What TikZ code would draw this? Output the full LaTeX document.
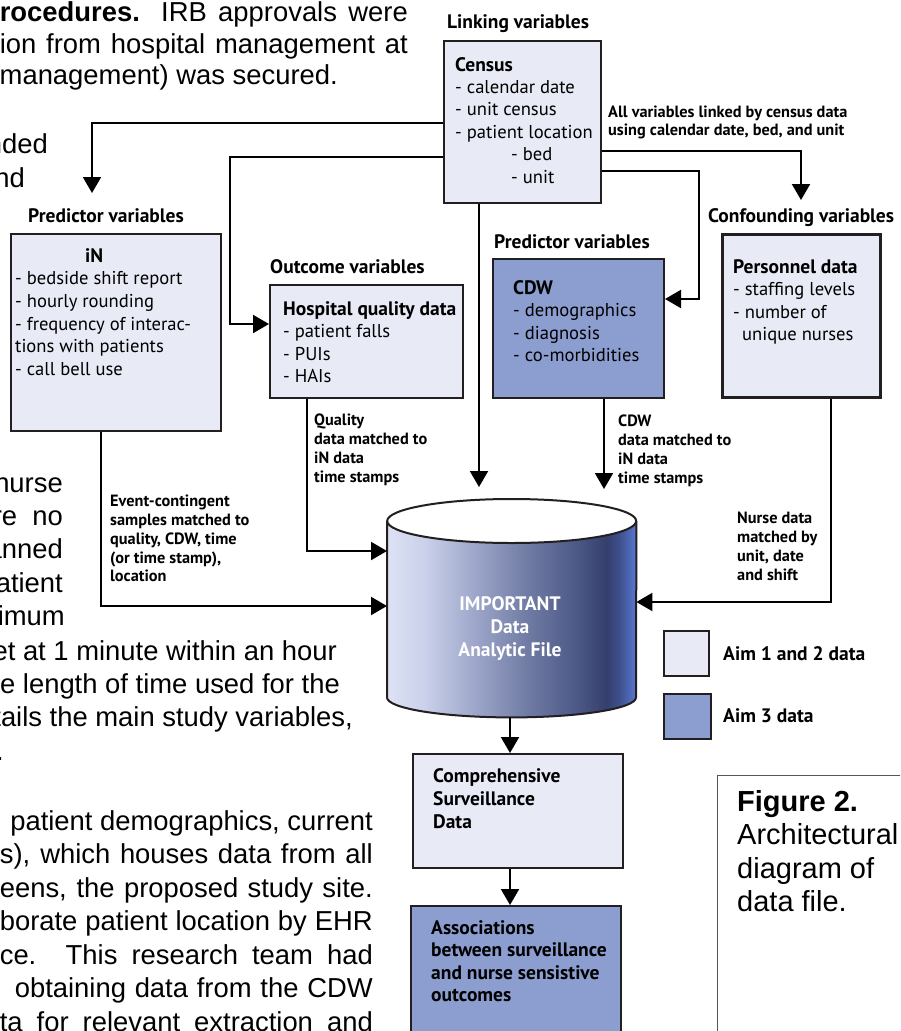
\documentclass[tikz,border=0pt]{standalone}
\usepackage{fontspec}
\setmainfont{Liberation Sans}
\newfontfamily\dgfont{PT Sans}
\usetikzlibrary{arrows.meta}

\definecolor{boxline}{HTML}{231F20}
\definecolor{aimone}{HTML}{E8EAF5}
\definecolor{aimthree}{HTML}{8C9ED0}
\definecolor{capline}{HTML}{555555}
% cylinder body gradient, light on the left to navy with a bright rim
\definecolor{cyA}{HTML}{DDE2F4}
\definecolor{cyB}{HTML}{CBD1EA}
\definecolor{cyC}{HTML}{9EA7CA}
\definecolor{cyD}{HTML}{737EA6}
\definecolor{cyE}{HTML}{4E5A88}
\definecolor{cyF}{HTML}{343F6C}
\definecolor{cyG}{HTML}{3E4F8C}
\definecolor{cyH}{HTML}{5878D2}
\pgfdeclarehorizontalshading{cylshade}{100bp}{color(0bp)=(cyA); color(25bp)=(cyA);
  color(32.5bp)=(cyB); color(42.5bp)=(cyC); color(52.5bp)=(cyD); color(62.5bp)=(cyE);
  color(69bp)=(cyF); color(71.5bp)=(cyG); color(75bp)=(cyH); color(100bp)=(cyH)}

\newcommand\hd{\bfseries\fontsize{19.5}{22.8}\selectfont}

\tikzset{
  box/.style={draw=boxline, line width=2pt, fill=aimone, inner sep=0, anchor=north west},
  darkbox/.style={box, fill=aimthree},
  conn/.style={line width=2pt, -{Triangle[width=18pt,length=16pt]}},
  dg/.style={inner sep=0, anchor=north west, align=left, yshift=16pt,
    execute at begin node={\rule{0pt}{16pt}},
    font=\dgfont\fontsize{18.6}{22.4}\selectfont},
  dgb/.style={dg, font=\dgfont\bfseries\fontsize{19.5}{22.8}\selectfont},
  note/.style={inner sep=0, anchor=north west, align=left, yshift=13pt,
    execute at begin node={\rule{0pt}{13pt}},
    font=\dgfont\bfseries\fontsize{16.3}{18.8}\selectfont},
  body/.style={inner sep=0, anchor=base east, font=\fontsize{27.4}{33.5}\selectfont},
  caption/.style={inner sep=0, anchor=north west, align=left, yshift=25pt,
    execute at begin node={\rule{0pt}{25pt}},
    font=\fontsize{29}{33.4}\selectfont},
}

\begin{document}
\begin{tikzpicture}[x=1pt,y=-1pt]
\useasboundingbox (0,0) rectangle (900,1031);
\clip (0,0) rectangle (900,1031);

% surrounding body text of the page
\node[body] (p1) at (408,21) {\makebox[408pt][s]{\textbf{rocedures.} IRB approvals were}};
\node[body] (p2) at (408,53) {\makebox[408pt][s]{ion from hospital management at}};
\node[body] (p3) at (338,84) {management) was secured.};
\node[body] (p4) at (48,153) {nded};
\node[body] (p5) at (25,187) {nd};
\node[body] (p6) at (63,492) {nurse};
\node[body] (p7) at (63,525) {\makebox[70pt][s]{re no}};
\node[body] (p8) at (63,558) {anned};
\node[body] (p9) at (63,592) {atient};
\node[body] (p10) at (65,625) {imum};
\node[body] (p11) at (337,660) {et at 1 minute within an hour};
\node[body] (p12) at (340,693) {e length of time used for the};
\node[body] (p13) at (353,726) {tails the main study variables,};
\node[body] (p14) at (4,760) {.};
\node[body] (p15) at (373,830) {patient demographics, current};
\node[body] (p16) at (373,863.5) {\makebox[373pt][s]{s), which houses data from all}};
\node[body] (p17) at (373,897) {\makebox[373pt][s]{eens, the proposed study site.}};
\node[body] (p18) at (373,930.5) {\makebox[373pt][s]{borate patient location by EHR}};
\node[body] (p19) at (373,964) {\makebox[373pt][s]{ce. This research team had}};
\node[body] (p20) at (373,997.5) {\makebox[358pt][s]{obtaining data from the CDW}};
\node[body] (p21) at (373,1031) {\makebox[373pt][s]{ta for relevant extraction and}};

% data sources
\node[box, minimum width=157pt, minimum height=162pt] (census) at (443,40) {};
\node[box, minimum width=210pt, minimum height=197pt] (inbox) at (10,233) {};
\node[box, minimum width=193pt, minimum height=113pt] (hosp) at (269,284) {};
\node[darkbox, minimum width=171pt, minimum height=139pt] (cdw) at (492,258) {};
\node[box, line width=3.2pt, minimum width=158pt, minimum height=163pt] (pers) at (721,233) {};
\node[box, minimum width=210pt, minimum height=114pt] (comp) at (412,753) {};
\node[darkbox, minimum width=210pt, minimum height=140pt] (assoc) at (410,905) {};

% legend
\node[box, minimum width=45pt, minimum height=45pt] (legA) at (663,630) {};
\node[darkbox, minimum width=47pt, minimum height=45pt] (legB) at (663,693) {};
\node[dgb] (legAtext) at (723,660) {Aim 1 and 2 data};
\node[dgb] (legBtext) at (723,722) {Aim 3 data};

% group headings
\node[dgb] (hLink) at (447,28) {Linking variables};
\node[dgb] (hPredA) at (28,222) {Predictor variables};
\node[dgb] (hOut) at (270,273) {Outcome variables};
\node[dgb] (hPredB) at (494,248) {Predictor variables};
\node[dgb] (hConf) at (708,222) {Confounding variables};

% box contents
\node[dg] (censusText) at (455,73) {{\hd Census}\\- calendar date\\- unit census\\- patient location\\\hspace*{56pt}- bed\\\hspace*{56pt}- unit};
\node[dg, font=\dgfont\fontsize{18.6}{22.7}\selectfont] (inText) at (15,264) {\hspace*{70pt}{\hd iN}\\- bedside shift report\\- hourly rounding\\- frequency of interac-\\tions with patients\\- call bell use};
\node[dg, font=\dgfont\fontsize{18.6}{22.5}\selectfont] (hospText) at (283,317) {{\hd Hospital quality data}\\- patient falls\\- PUIs\\- HAIs};
\node[dg, font=\dgfont\fontsize{18.6}{22.5}\selectfont] (cdwText) at (513,296) {{\hd CDW}\\- demographics\\- diagnosis\\- co-morbidities};
\node[dg, font=\dgfont\fontsize{18.6}{22.5}\selectfont] (persText) at (733,275) {{\hd Personnel data}\\- staffing levels\\- number of\\\hspace*{9pt}unique nurses};
\node[dgb, font=\dgfont\bfseries\fontsize{19.5}{23}\selectfont] (compText) at (433,784) {Comprehensive\\Surveillance\\Data};
\node[dgb, font=\dgfont\bfseries\fontsize{19.5}{22.6}\selectfont] (assocText) at (431,936) {Associations\\between surveillance\\and nurse sensistive\\outcomes};

% connector notes
\node[note, font=\dgfont\bfseries\fontsize{16.3}{18}\selectfont] (nLink) at (608,119) {All variables linked by census data\\using calendar date, bed, and unit};
\node[note] (nQual) at (314,427) {Quality\\data matched to\\iN data\\time stamps};
\node[note] (nCdw) at (618,428) {CDW\\data matched to\\iN data\\time stamps};
\node[note] (nEvent) at (110,508) {Event-contingent\\samples matched to\\quality, CDW, time\\(or time stamp),\\location};
\node[note] (nNurse) at (737,525) {Nurse data\\matched by\\unit, date\\and shift};

% analytic file cylinder
\node[inner sep=0, anchor=north west, minimum width=249pt, minimum height=176pt] (cyl) at (387,521) {};
\shade[shading=cylshade] (cyl.north west) -- (cyl.south west)
  arc[start angle=180, end angle=0, x radius=124.5, y radius=20] -- (cyl.north east) -- cycle;
\draw[boxline, line width=2pt] (cyl.north west) -- (cyl.south west)
  arc[start angle=180, end angle=0, x radius=124.5, y radius=20] -- (cyl.north east);
\draw[boxline, line width=2pt, fill=white] (cyl.north) ellipse [x radius=124.5, y radius=22];
\node[dgb, anchor=north, align=center, text=white, font=\dgfont\bfseries\fontsize{19.5}{23}\selectfont] (cylText) at (510,612) {IMPORTANT\\Data\\Analytic File};

% caption frame
\node[draw=capline, line width=1.2pt, inner sep=0, anchor=north west, minimum width=220pt, minimum height=300pt] (capFrame) at (717,775) {};
\node[caption] (capText) at (737,815) {\textbf{Figure 2.}\\Architectural\\diagram of\\data file.};

% connectors
\coordinate (bendA) at (92,123);
\coordinate (inTip) at (92,193);
\draw[conn] (census.west |- bendA) -- (bendA) -- (inTip);

\coordinate (bendB1) at (230,157);
\coordinate (bendB2) at (230,324);
\draw[conn] (census.west |- bendB1) -- (bendB1) -- (bendB2) -- (hosp.west |- bendB2);

\coordinate (bendC) at (801,151);
\coordinate (persTip) at (801,200);
\draw[conn] (census.east |- bendC) -- (bendC) -- (persTip);

\coordinate (bendD1) at (699,171);
\coordinate (bendD2) at (699,299);
\draw[conn] (census.east |- bendD1) -- (bendD1) -- (bendD2) -- (cdw.east |- bendD2);

\coordinate (censusTip) at (479,487);
\draw[conn] (census.south -| censusTip) -- (censusTip);

\coordinate (cdwTip) at (604,489);
\draw[conn] (cdw.south -| cdwTip) -- (cdwTip);

\coordinate (bendE) at (307,551);
\draw[conn] (hosp.south -| bendE) -- (bendE) -- (cyl.west |- bendE);

\coordinate (bendF) at (101,606);
\draw[conn] (inbox.south -| bendF) -- (bendF) -- (cyl.west |- bendF);

\coordinate (bendG) at (831,602);
\draw[conn] (pers.south -| bendG) -- (bendG) -- (cyl.east |- bendG);

\coordinate (cylBase) at (510,717);
\draw[conn] (cylBase) -- (cylBase |- comp.north);
\draw[conn] (comp.south -| cylBase) -- (assoc.north -| cylBase);
\end{tikzpicture}
\end{document}
